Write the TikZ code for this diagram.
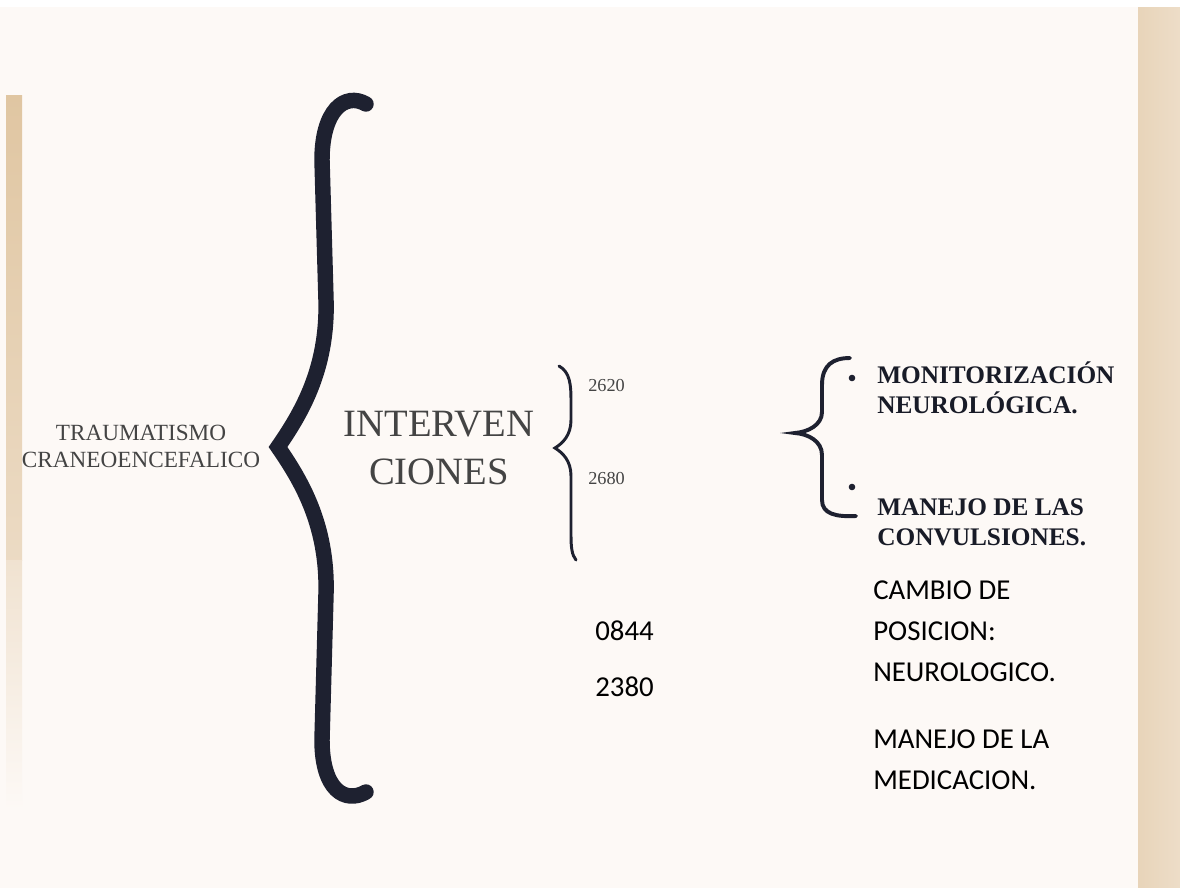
\documentclass[tikz,border=0pt]{standalone}
\usepackage{fontspec}
\setmainfont{Liberation Serif}
\newfontfamily\calibri{Carlito}
\definecolor{paper}{RGB}{253,249,246}
\definecolor{tan}{RGB}{224,198,162}
\definecolor{ink}{RGB}{30,33,48}
\definecolor{greytext}{RGB}{68,68,68}
\begin{document}
\begin{tikzpicture}[x=0.025cm,y=-0.025cm,
        serif/.style={inner sep=0pt,text=greytext,align=center},
        boldtext/.style={inner sep=0pt,text=ink!80!black,align=left,font=\bfseries\fontsize{18}{21}\selectfont},
        plaintext/.style={inner sep=0pt,align=left,font=\calibri\fontsize{20.5}{29}\selectfont}]
        \fill[white] (0,0) rectangle (1180,888);
        \fill[paper] (0,7) rectangle (1180,888);
        \shade[top color=tan, bottom color=tan!60!paper] (6,95) rectangle (22,560);
        \shade[top color=tan!45!paper, bottom color=paper] (6,560) rectangle (22,810);
        \shade[left color=tan!75!white, right color=tan!55!paper] (1138,7) rectangle (1180,888);
        \draw[ink, line width=11pt, line cap=round, line join=miter]
            (366,104) .. controls (345,92) and (322,110) .. (322,160) -- (326,300)
            .. controls (328,370) and (300,415) .. (278,447)
            .. controls (300,479) and (328,524) .. (326,594) -- (322,740)
            .. controls (322,790) and (345,804) .. (366,792);
        \draw[ink, line width=2.1pt, line cap=round]
            (559,366) .. controls (570,372) and (571,385) .. (571,400) -- (571,420)
            .. controls (571,435) and (563,443) .. (555,448)
            .. controls (563,453) and (571,461) .. (571,476) -- (571,535)
            .. controls (571,548) and (572,555) .. (576,560);
        \draw[ink, line width=2.8pt, line cap=round]
            (850,358) .. controls (833,358) and (822,365) .. (822,385) -- (822,412)
            .. controls (822,425) and (808,432) .. (795,433)
            .. controls (808,434) and (822,441) .. (822,455) -- (822,500)
            .. controls (822,514) and (836,517) .. (856,516);
        \fill[ink] (852,378) circle (3.3);
        \fill[ink] (852,487) circle (3.3);
        \node[serif, font=\fontsize{16.5}{19}\selectfont, anchor=base] (trauma) at (141,467) {TRAUMATISMO\\CRANEOENCEFALICO};
        \node[serif, font=\fontsize{27.5}{34}\selectfont, anchor=base] (interv) at (439,484) {INTERVEN\\CIONES};
        \node[serif, font=\fontsize{13}{15}\selectfont, anchor=base west] (n2620) at (588,391) {2620};
        \node[serif, font=\fontsize{13}{15}\selectfont, anchor=base west] (n2680) at (588,484) {2680};
        \node[boldtext, anchor=base west] (monit) at (877,413) {MONITORIZACIÓN\\NEUROLÓGICA.};
        \node[boldtext, anchor=base west] (convul) at (877,545) {MANEJO DE LAS\\CONVULSIONES.};
        \node[plaintext, anchor=base west] (n0844) at (595,640) {0844};
        \node[plaintext, anchor=base west] (n2380) at (595,696) {2380};
        \node[plaintext, anchor=base west] (cambio) at (873,681) {CAMBIO DE\\POSICION:\\NEUROLOGICO.};
        \node[plaintext, anchor=base west] (medic) at (873,789) {MANEJO DE LA\\MEDICACION.};
    \end{tikzpicture}
\end{document}
